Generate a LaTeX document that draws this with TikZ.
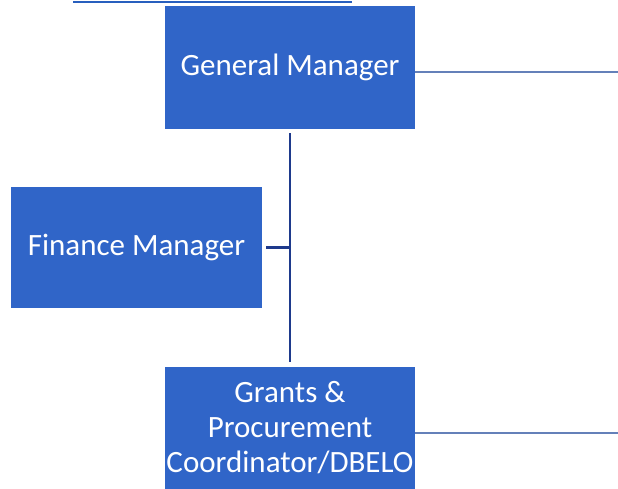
\documentclass[tikz,border=0pt]{standalone}
\usepackage{fontspec}
\setmainfont{Carlito}
\usetikzlibrary{calc,positioning}

\definecolor{postblue}{RGB}{48,101,200}
\definecolor{spinenavy}{RGB}{30,58,140}
\definecolor{sideblue}{RGB}{100,128,185}
\definecolor{topblue}{RGB}{40,95,190}

\begin{document}
\begin{tikzpicture}[x=1pt, y=-1pt,
  post/.style={fill=postblue, text=white, inner sep=0pt,
    minimum width=250pt, minimum height=122pt, align=center,
    font=\fontsize{31}{35}\selectfont},
  spine/.style={draw=spinenavy, line width=2.6pt},
  side/.style={draw=sideblue, line width=1.3pt}]

  % Page frame (pixels of the scan)
  \useasboundingbox (0,0) rectangle (618,489);

  % Line left from the box above
  \coordinate (topL) at (73,2);
  \coordinate (topR) at (352,2);
  \draw[draw=topblue, line width=2pt] (topL) -- (topR);

  % Posts
  \node[post, minimum height=123pt] (gm) at (290,67.5) {General Manager};
  \node[post, minimum width=251pt, minimum height=121pt] (fin) at (136.5,247.5) {Finance Manager};
  \node[post] (grants) at (290,428) {Grants \&\\Procurement\\Coordinator/DBELO};

  % Reporting line
  \draw[spine] ($(gm.south)+(0,4)$) -- ($(grants.north)+(0,-5)$);
  \draw[spine] ($(fin.east)+(4,0)$) -- (fin.east -| gm.south);

  % Lines running off to the right
  \coordinate (gmOut) at (618,72);
  \coordinate (grantsOut) at (618,433);
  \draw[side] (gm.east |- gmOut) -- (gmOut);
  \draw[side] (grants.east |- grantsOut) -- (grantsOut);

\end{tikzpicture}
\end{document}
